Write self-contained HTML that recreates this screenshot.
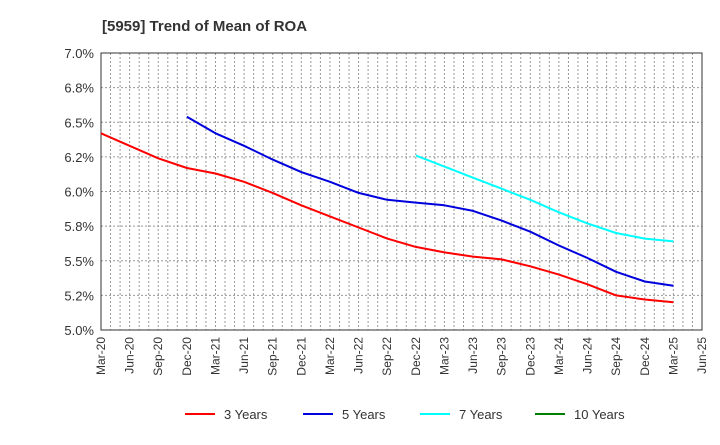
<!DOCTYPE html>
<html><head><meta charset="utf-8"><style>
body{margin:0;background:#fff;font-family:"Liberation Sans",Arial,sans-serif}
</style></head><body>
<svg id="c" width="720" height="440" xmlns="http://www.w3.org/2000/svg" font-family="Liberation Sans, Arial, sans-serif">
<text x="102" y="31" font-size="15" font-weight="bold" fill="#333">[5959]  Trend of Mean of ROA</text>
<g id="grid"></g><g id="axes"></g><g id="series"></g><g id="legend"></g>
</svg>
<script>
const xLabels=["Mar-20","Jun-20","Sep-20","Dec-20","Mar-21","Jun-21","Sep-21","Dec-21","Mar-22","Jun-22","Sep-22","Dec-22","Mar-23","Jun-23","Sep-23","Dec-23","Mar-24","Jun-24","Sep-24","Dec-24","Mar-25","Jun-25"];
const yTicks=[5.0,5.25,5.5,5.75,6.0,6.25,6.5,6.75,7.0];
const yTickLabels=["5.0%","5.2%","5.5%","5.8%","6.0%","6.2%","6.5%","6.8%","7.0%"];
const s3=[6.42,6.33,6.24,6.17,6.13,6.07,5.99,5.90,5.82,5.74,5.66,5.60,5.56,5.53,5.51,5.46,5.40,5.33,5.25,5.22,5.20];
const s5=[null,null,null,6.54,6.42,6.33,6.23,6.14,6.07,5.99,5.94,5.92,5.90,5.86,5.79,5.71,5.61,5.52,5.42,5.35,5.32];
const s7=[null,null,null,null,null,null,null,null,null,null,null,6.26,6.18,6.10,6.02,5.94,5.85,5.77,5.70,5.66,5.64];
const s10=[];
const L=101,R=702,T=53,B=330,NM=63;
const xm=m=>L+(R-L)*m/NM, xq=i=>xm(i*3);
const y=v=>B-(v-5)/2*(B-T);
const NS="http://www.w3.org/2000/svg";
function mk(p,t,a){const e=document.createElementNS(NS,t);for(const k in a)e.setAttribute(k,a[k]);p.appendChild(e);return e;}
const g=document.getElementById('grid'),ax=document.getElementById('axes'),sg=document.getElementById('series'),lg=document.getElementById('legend');
for(let m=1;m<NM;m++){const l=mk(g,'line',{x1:xm(m),x2:xm(m),y1:T,y2:B,stroke:'#999','stroke-width':1,'stroke-dasharray':'2,2'});

}
yTicks.forEach((v,i)=>{if(i>0&&i<yTicks.length-1){const l=mk(g,'line',{x1:L,x2:R,y1:y(v),y2:y(v),stroke:'#999','stroke-width':1,'stroke-dasharray':'2,2'});

}
const t=mk(ax,'text',{x:L-7,y:y(v)+5,'text-anchor':'end','font-size':13,fill:'#333'});t.textContent=yTickLabels[i];

});
const fr=mk(ax,'rect',{x:L,y:T,width:R-L,height:B-T,fill:'none',stroke:'#333','stroke-width':1});


xLabels.forEach((s,i)=>{const x=xq(i);const t=mk(ax,'text',{x:x+4,y:B+7,'text-anchor':'end','font-size':12,fill:'#333',transform:`rotate(-90 ${x+4} ${B+7})`});t.textContent=s;

});
function line(d,c,n){let p='';d.forEach((v,i)=>{if(v==null)return;p+=(p?'L':'M')+xq(i).toFixed(1)+','+y(v).toFixed(1);});if(!p)return;
const e=mk(sg,'path',{d:p,fill:'none',stroke:c,'stroke-width':2,'stroke-linejoin':'round'});

}
line(s3,'#ff0000','series-3-years');line(s5,'#0000dd','series-5-years');line(s7,'#00ffff','series-7-years');line(s10,'#008000','series-10-years');
[['3 Years','#ff0000',185],['5 Years','#0000dd',303],['7 Years','#00ffff',420],['10 Years','#008000',535]].forEach(([n,c,x])=>{
const gg=mk(lg,'g',{});
mk(gg,'line',{x1:x,x2:x+30,y1:414,y2:414,stroke:c,'stroke-width':2});
const t=mk(gg,'text',{x:x+39,y:419,'font-size':13,fill:'#333'});t.textContent=n;});
</script>
</body></html>
